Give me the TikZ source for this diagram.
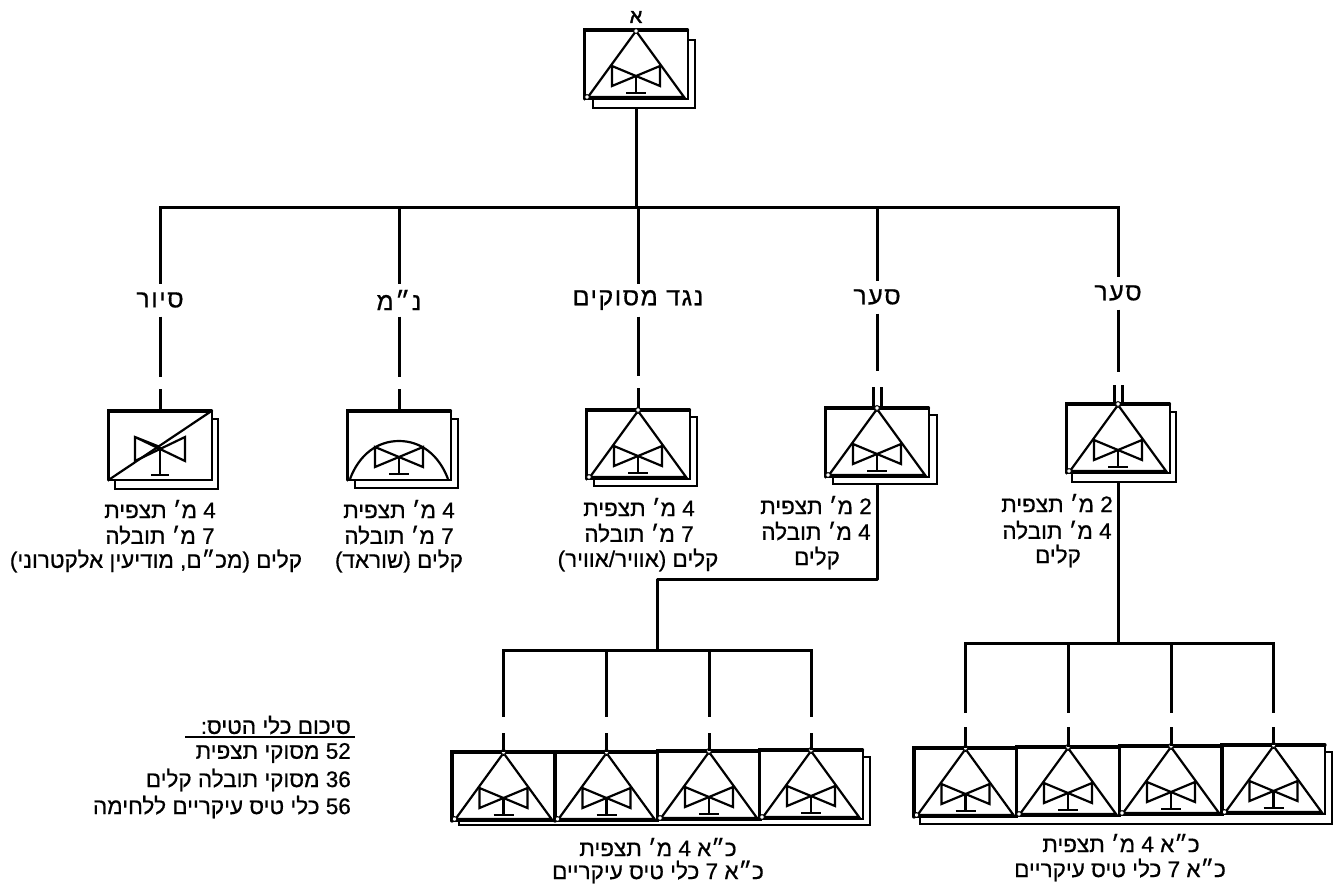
\documentclass[tikz,border=0pt]{standalone}
\usepackage{fontspec}
\TeXXeTstate=1
\newfontfamily\hebfont[Script=Hebrew,FakeBold=0.6]{Liberation Sans}
\newfontfamily\tagfont[Script=Hebrew,FakeBold=0.6,LetterSpace=6]{Liberation Sans}
\newfontfamily\topfont[Script=Hebrew,FakeBold=2]{Liberation Sans}
\newcommand{\RL}[1]{\leavevmode\beginR #1\endR}
\tikzset{
  x=1pt,y=-1pt,
  wire/.style={line width=3pt,black},
  stub/.style={line width=3pt,black},
  symline/.style={line width=2.2pt,black,line join=miter},
  sheet/.style={draw=black,line width=1.8pt,fill=white,inner sep=0,outer sep=0,anchor=north west},
  frame/.style={draw=black,line width=2pt,fill=white,inner sep=0,outer sep=0,anchor=north,minimum width=103pt,minimum height=69pt},
  lab/.style={font=\hebfont\fontsize{22.5}{26}\selectfont,align=center,inner sep=0,text=black},
  tag/.style={font=\tagfont\fontsize{25}{26}\selectfont,inner sep=0,outer sep=0,minimum height=33pt,text=black},
  joint/.style={draw=black,fill=white,line width=1pt},
  bowtie/.pic={
    \draw[symline] (0,46)--(-24,36)--(-24,56)--(24,36)--(24,56)--(-24,36);
    \draw[symline] (0,46)--(0,63);
    \draw[line width=2.6pt] (-10,63)--(10,63);
  },
  bowtieup/.pic={
    \draw[symline] (0,36)--(-25,26)--(-25,50)--(25,26)--(25,50)--(-25,26);
    \draw[symline] (0,36)--(0,64);
    \draw[line width=2.6pt] (-9,64)--(9,64);
  },
  tri/.pic={
    \pic{bowtie};
    \draw[symline] (-48,67)--(0,1)--(48,67)--cycle;
    \fill[joint] (0,1) circle (2.4pt);
    \fill[joint] (-49,67) circle (2.4pt);
  },
  dome/.pic={
    \pic{bowtie};
    \draw[symline] (-49,68) .. controls (-40,44) and (-22,30) .. (0,30) .. controls (22,30) and (40,44) .. (49,68);
  },
  diag/.pic={
    \pic{bowtieup};
    \draw[symline] (-50,68)--(50,1);
  },
}
% \planeunit{name}{cx}{top}{symbol}
\newcommand{\planeunit}[4]{%
  \node[frame] (#1) at (#2,#3) {};
  \draw[line width=3.2pt,black,line cap=round] (#1.south west)--(#1.north west)--(#1.north east);
  \pic at (#2,#3) {#4};
}
% \sheetback{name}{left}{top}{right}{bottom}
\newcommand{\sheetback}[5]{%
  \pgfmathsetmacro{\sw}{#4-#2}\pgfmathsetmacro{\sh}{#5-#3}%
  \node[sheet,minimum width=\sw pt,minimum height=\sh pt] (#1) at (#2,#3) {};
}
\begin{document}
\begin{tikzpicture}
\useasboundingbox[fill=white] (0,0) rectangle (1341,884);

% back sheets
\sheetback{s0}{593}{40}{695}{108}
\sheetback{s1}{115}{419}{218}{489}
\sheetback{s2}{355}{419}{458}{488}
\sheetback{s3}{594}{417}{697}{486}
\sheetback{s4}{833}{415}{937}{484}
\sheetback{s5}{1072}{412}{1176}{482}
\sheetback{s6}{459}{757}{870}{825}
\sheetback{s7}{920}{752}{1332}{824}

% units
\planeunit{u0}{636}{30}{tri}
\planeunit{u1}{160}{411}{diag}
\planeunit{u2}{399}{411}{dome}
\planeunit{u3}{638}{410}{tri}
\planeunit{u4}{877}{408}{tri}
\planeunit{u5}{1118}{404}{tri}
\planeunit{a1}{503.5}{752}{tri}
\planeunit{a2}{606.5}{752}{tri}
\planeunit{a3}{709}{751}{tri}
\planeunit{a4}{811}{750}{tri}
\planeunit{b1}{965.5}{748}{tri}
\planeunit{b2}{1068}{747}{tri}
\planeunit{b3}{1171}{746}{tri}
\planeunit{b4}{1273.5}{745}{tri}

% tags on the branches
\node[tag] (t1) at (160,300) {\RL{סיור}};
\node[tag] (t2) at (399,300) {\RL{נ״מ}};
\node[tag] (t3) at (638,300) {\RL{נגד מסוקים}};
\node[tag] (t4) at (877,297) {\RL{סער}};
\node[tag] (t5) at (1118,293) {\RL{סער}};
\node[font=\topfont\fontsize{20}{24}\selectfont,inner sep=0] (t0) at (636,17) {\RL{א}};

% main tree
\coordinate (j0) at (636,207);
\coordinate (j1) at (160,207);
\coordinate (j2) at (399,207);
\coordinate (j3) at (638,207);
\coordinate (j4) at (877,207);
\coordinate (j5) at (1118,207);
\draw[wire] (u0.south |- s0.south) -- (j0);
\draw[wire,line cap=rect] (j1) -- (j5);
\foreach \n/\e/\g in {1/377/389,2/377/389,3/376/388,4/371/387,5/372/385}{
  \coordinate (e\n) at (t\n.south |- 0,\e);
  \coordinate (g\n) at (t\n.south |- 0,\g);
  \draw[wire] (j\n) -- (t\n.north);
  \draw[wire] (t\n.south) -- (e\n);
}
\foreach \n in {1,2,3}{\draw[stub] (g\n) -- (u\n.north);}
\draw[stub] ([xshift=-4pt]g4) -- ([xshift=-4pt]u4.north);
\draw[stub] ([xshift=4pt]g4) -- ([xshift=4pt]u4.north);
\draw[stub] ([xshift=-4pt]g5) -- ([xshift=-4pt]u5.north);
\draw[stub] ([xshift=4pt]g5) -- ([xshift=4pt]u5.north);
\fill[joint] (u3.north) circle (2.4pt);
\fill[joint] (u4.north) circle (2.4pt);
\fill[joint] (u5.north) circle (2.4pt);
\fill[joint] (a1.north) circle (2.4pt);
\fill[joint] (a2.north) circle (2.4pt);
\fill[joint] (a3.north) circle (2.4pt);
\fill[joint] (a4.north) circle (2.4pt);
\fill[joint] (b1.north) circle (2.4pt);
\fill[joint] (b2.north) circle (2.4pt);
\fill[joint] (b3.north) circle (2.4pt);
\fill[joint] (b4.north) circle (2.4pt);

% lower-left tree
\coordinate (la) at (877,579);
\coordinate (lb) at (657,579);
\coordinate (lc) at (657,650);
\draw[wire,line join=round] (u4.south |- s4.south) -- (la) -- (lb) -- (lc);
\foreach \n/\x in {1/503.5,2/606.5,3/709,4/811}{
  \coordinate (p\n) at (\x,650);
  \coordinate (q\n) at (\x,717);
  \coordinate (r\n) at (\x,733);
  \draw[wire] (p\n) -- (q\n);
  \draw[stub] (r\n) -- (a\n.north);
}
\draw[wire,line cap=rect] (p1) -- (p4);

% lower-right tree
\coordinate (ra) at (1118,643);
\draw[wire] (u5.south |- s5.south) -- (ra);
\foreach \n/\x in {1/965.5,2/1068,3/1171,4/1273.5}{
  \coordinate (v\n) at (\x,643);
  \coordinate (w\n) at (\x,713);
  \coordinate (z\n) at (\x,727);
  \draw[wire] (v\n) -- (w\n);
  \draw[stub] (z\n) -- (b\n.north);
}
\draw[wire,line cap=rect] (v1) -- (v4);

% captions
\node[lab] (c1a) at (160,509) {\RL{4 מ׳ תצפית}};
\node[lab] (c1b) at (160,535) {\RL{7 מ׳ תובלה}};
\node[lab] (c1c) at (156,561) {\RL{קלים (מכ״ם, מודיעין אלקטרוני)}};
\node[lab] (c2a) at (399,509) {\RL{4 מ׳ תצפית}};
\node[lab] (c2b) at (399,535) {\RL{7 מ׳ תובלה}};
\node[lab] (c2c) at (399,561) {\RL{קלים (שוראד)}};
\node[lab] (c3a) at (639,507) {\RL{4 מ׳ תצפית}};
\node[lab] (c3b) at (639,533) {\RL{7 מ׳ תובלה}};
\node[lab] (c3c) at (638,560) {\RL{קלים (אוויר/אוויר)}};
\node[lab] (c4a) at (816,505) {\RL{2 מ׳ תצפית}};
\node[lab] (c4b) at (816,531) {\RL{4 מ׳ תובלה}};
\node[lab] (c4c) at (817,558) {\RL{קלים}};
\node[lab] (c5a) at (1057,503) {\RL{2 מ׳ תצפית}};
\node[lab] (c5b) at (1057,530) {\RL{4 מ׳ תובלה}};
\node[lab] (c5c) at (1058,556) {\RL{קלים}};
\node[lab] (c6a) at (658,847) {\RL{כ״א 4 מ׳ תצפית}};
\node[lab] (c6b) at (658,872) {\RL{כ״א 7 כלי טיס עיקריים}};
\node[lab] (c7a) at (1121,843) {\RL{כ״א 4 מ׳ תצפית}};
\node[lab] (c7b) at (1120,870) {\RL{כ״א 7 כלי טיס עיקריים}};

% summary
\node[lab,anchor=east] (l0) at (351,725) {\RL{סיכום כלי הטיס:}};
\node[lab,anchor=east] (l1) at (351,753) {\RL{\beginL 52\endL{} מסוקי תצפית}};
\node[lab,anchor=east] (l2) at (351,780) {\RL{\beginL 36\endL{} מסוקי תובלה קלים}};
\node[lab,anchor=east] (l3) at (351,807) {\RL{\beginL 56\endL{} כלי טיס עיקריים ללחימה}};
\coordinate (ul1) at (185,737);
\coordinate (ul2) at (355,737);
\draw[line width=1.4pt] (ul1) -- (ul2);
\end{tikzpicture}
\end{document}
